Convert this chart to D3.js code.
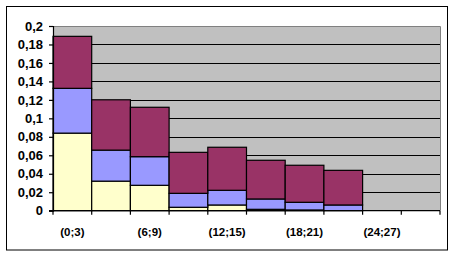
<!DOCTYPE html>
<html><head><meta charset="utf-8">
<script src="https://cdn.jsdelivr.net/npm/d3@7"></script>
<style>body{margin:0;background:#fff}svg{display:block}text{font-family:"Liberation Sans",Arial,sans-serif;font-weight:bold}</style>
</head><body><svg id="c" width="455" height="257"></svg>
<script>
const categories = ["(0;3)","(3;6)","(6;9)","(9;12)","(12;15)","(15;18)","(18;21)","(21;24)","(24;27)","(27;30)"];
const seriesYellow = [0.084, 0.032, 0.0275, 0.0037, 0.0062, 0.0015, 0.0008, 0, 0, 0];
const seriesBlue   = [0.0485, 0.0336, 0.031, 0.0151, 0.0159, 0.0112, 0.0083, 0.0062, 0, 0];
const seriesMaroon = [0.0563, 0.0545, 0.0535, 0.0444, 0.0466, 0.0419, 0.0401, 0.0375, 0, 0];
const yTicks = [0,0.02,0.04,0.06,0.08,0.1,0.12,0.14,0.16,0.18,0.2];
const xLabelShown = ["(0;3)","(6;9)","(12;15)","(18;21)","(24;27)"];

const svg = d3.select("#c");
svg.append("rect").attr("x",6.5).attr("y",6.5).attr("width",441).attr("height",243.5)
  .attr("fill","#fff").attr("stroke","#000").attr("stroke-width",1);

const L=53, R=440, T=26, B=210.7;
const x = d3.scaleBand().domain(categories).range([L,R]).padding(0);
const y = d3.scaleLinear().domain([0,0.2]).range([B,T]);

svg.append("rect").attr("x",L).attr("y",T).attr("width",R-L).attr("height",B-T).attr("fill","#C0C0C0");
svg.append("g").selectAll("line").data(yTicks.filter(d=>d>0&&d<0.2)).join("line")
  .attr("x1",L).attr("x2",R).attr("y1",d=>Math.round(y(d))+0.5).attr("y2",d=>Math.round(y(d))+0.5)
  .attr("stroke","#000");
svg.append("path").attr("d",`M${L},${Math.round(T)+0.5}H${R+0.5}V${B}`).attr("fill","none").attr("stroke","#808080");

const data = categories.map((c,i)=>({cat:c, yellow:seriesYellow[i], blue:seriesBlue[i], maroon:seriesMaroon[i]}));
const keys=["yellow","blue","maroon"];
const colors={yellow:"#FFFFCC",blue:"#9999FF",maroon:"#993366"};
const stacked=d3.stack().keys(keys)(data);
svg.append("g").selectAll("g").data(stacked).join("g").attr("fill",d=>colors[d.key])
  .selectAll("rect").data(d=>d.filter(p=>p[1]-p[0]>0)).join("rect")
  .attr("x",d=>x(d.data.cat)).attr("width",x.bandwidth())
  .attr("y",d=>y(d[1])).attr("height",d=>y(d[0])-y(d[1]))
  .attr("stroke","#000").attr("stroke-width",1.2);

const ya = svg.append("g").attr("transform",`translate(${L},0)`)
  .call(d3.axisLeft(y).tickValues(yTicks).tickSize(4).tickPadding(6).tickFormat(d=>d3.format("~g")(d).replace(".",",")));
ya.select(".domain").attr("stroke","#000").attr("stroke-width",1.2);
ya.selectAll(".tick line").attr("stroke-width",1.2);
ya.selectAll("text").attr("font-size",13).attr("fill","#000").style("font-weight","bold");
const xa = svg.append("g").attr("transform",`translate(0,${B})`);
xa.append("line").attr("x1",L-4).attr("x2",R).attr("stroke","#000").attr("stroke-width",1.2);
const bounds = categories.map(c=>x(c)).concat([R]);
xa.selectAll("line.t").data(bounds).join("line").attr("class","t")
  .attr("x1",d=>d).attr("x2",d=>d).attr("y1",0).attr("y2",4).attr("stroke","#000").attr("stroke-width",1.2);
xa.selectAll("text").data(categories.filter(c=>xLabelShown.includes(c))).join("text")
  .attr("x",d=>x(d)+x.bandwidth()/2).attr("y",25).attr("text-anchor","middle")
  .attr("font-size",11.5).attr("fill","#000").text(d=>d);
</script></body></html>
